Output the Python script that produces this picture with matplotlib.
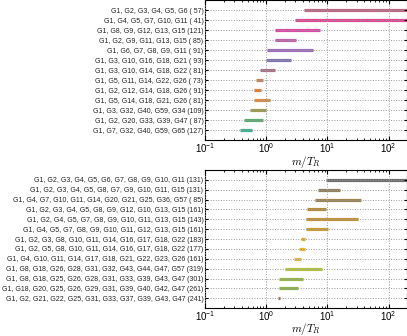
import matplotlib
matplotlib.use("Agg")
import matplotlib.pyplot as plt

plt.rcParams['mathtext.fontset'] = 'cm'
plt.rcParams['font.family'] = ['Liberation Sans', 'DejaVu Sans']

# top panel: 6-generator subsets
top_labels = ["G1, G2, G3, G4, G5, G6 ( 57)",
              "G1, G4, G5, G7, G10, G11 ( 41)",
              "G1, G8, G9, G12, G13, G15 (121)",
              "G1, G2, G9, G11, G13, G15 ( 85)",
              "G1, G6, G7, G8, G9, G11 ( 91)",
              "G1, G3, G10, G16, G18, G21 ( 93)",
              "G1, G3, G10, G14, G18, G22 ( 81)",
              "G1, G5, G11, G14, G22, G26 ( 73)",
              "G1, G2, G12, G14, G18, G26 ( 91)",
              "G1, G5, G14, G18, G21, G26 ( 81)",
              "G1, G3, G32, G40, G59, G34 (109)",
              "G1, G2, G20, G33, G39, G47 ( 87)",
              "G1, G7, G32, G40, G59, G65 (127)"]
top_lo = [4.1, 3.0, 1.41, 1.41, 1.01, 1.0, 0.80, 0.68, 0.635, 0.62, 0.547, 0.425, 0.375]
top_hi = [400, 400, 7.7, 3.1, 5.7, 2.54, 1.41, 0.87, 0.81, 1.13, 1.0, 0.87, 0.59]
top_colors = ["#b24c6c", "#d8287e", "#d42a92", "#b5489e", "#8c55b0", "#6b5ca8",
              "#9a5c6c", "#c46c40", "#d8691c", "#d47a22", "#8c8a34", "#3f9c5a", "#1ca383"]

# bottom panel: 11-generator subsets
bot_labels = ["G1, G2, G3, G4, G5, G6, G7, G8, G9, G10, G11 (131)",
              "G1, G2, G3, G4, G5, G8, G7, G9, G10, G11, G15 (131)",
              "G1, G4, G7, G10, G11, G14, G20, G21, G25, G36, G57 ( 85)",
              "G1, G2, G3, G4, G5, G8, G9, G12, G10, G13, G15 (161)",
              "G1, G2, G4, G5, G7, G8, G9, G10, G11, G13, G15 (143)",
              "G1, G4, G5, G7, G8, G9, G10, G11, G12, G13, G15 (161)",
              "G1, G2, G3, G8, G10, G11, G14, G16, G17, G18, G22 (183)",
              "G1, G2, G5, G8, G10, G11, G14, G16, G17, G18, G22 (177)",
              "G1, G4, G10, G11, G14, G17, G18, G21, G22, G23, G26 (161)",
              "G1, G8, G18, G26, G28, G31, G32, G43, G44, G47, G57 (319)",
              "G1, G8, G18, G25, G26, G28, G31, G33, G39, G43, G47 (301)",
              "G1, G18, G20, G25, G26, G29, G31, G39, G40, G42, G47 (261)",
              "G1, G2, G21, G22, G25, G31, G33, G37, G39, G43, G47 (241)"]
bot_lo = [9.5, 6.9, 6.35, 4.64, 4.5, 4.5, 3.75, 3.47, 2.8, 2.0, 1.59, 1.59, 1.55]
bot_hi = [400, 15.9, 35.6, 9.5, 31.8, 10.2, 4.37, 4.37, 3.75, 8.0, 4.0, 3.3, 1.7]
bot_colors = ["#555555", "#7e6945", "#8c6c38", "#a8781c", "#b38016", "#be8a12",
              "#d89c10", "#e0a812", "#d9ae28", "#a9b824", "#86aa2c", "#77a430", "#8a6030"]

fig = plt.figure(figsize=(4.07, 3.36), dpi=100)
ax1 = fig.add_axes([0.504, 0.582, 0.496, 0.418])
ax2 = fig.add_axes([0.504, 0.083, 0.496, 0.411])

for ax, labels, lo, hi, cols in [(ax1, top_labels, top_lo, top_hi, top_colors),
                                  (ax2, bot_labels, bot_lo, bot_hi, bot_colors)]:
    n = len(labels)
    for i in range(n):
        ax.plot([lo[i], hi[i]], [i, i], color=cols[i], lw=2.3, alpha=0.85,
                solid_capstyle='butt', zorder=1)
    ax.set_xscale('log')
    ax.set_xlim(0.1, 200)
    ax.set_ylim(n, -1)
    ax.set_yticks(range(n))
    ax.set_yticklabels(labels, fontsize=5.0, color='#222222')
    ax.grid(True, which='major', linestyle=':', color='#999999', lw=0.7, zorder=3)
    ax.set_axisbelow(False)
    ax.tick_params(axis='both', which='both', direction='in', top=True, right=True)
    ax.tick_params(axis='y', length=2, pad=1.2)
    ax.tick_params(axis='x', which='major', length=3, labelsize=7, pad=0.5)
    ax.tick_params(axis='x', which='minor', length=1.5)
    for s in ax.spines.values():
        s.set_linewidth(0.8)
    ax.set_xlabel(r'$m/T_R$', fontsize=8, labelpad=-1)

plt.savefig("out.png", dpi=100)
